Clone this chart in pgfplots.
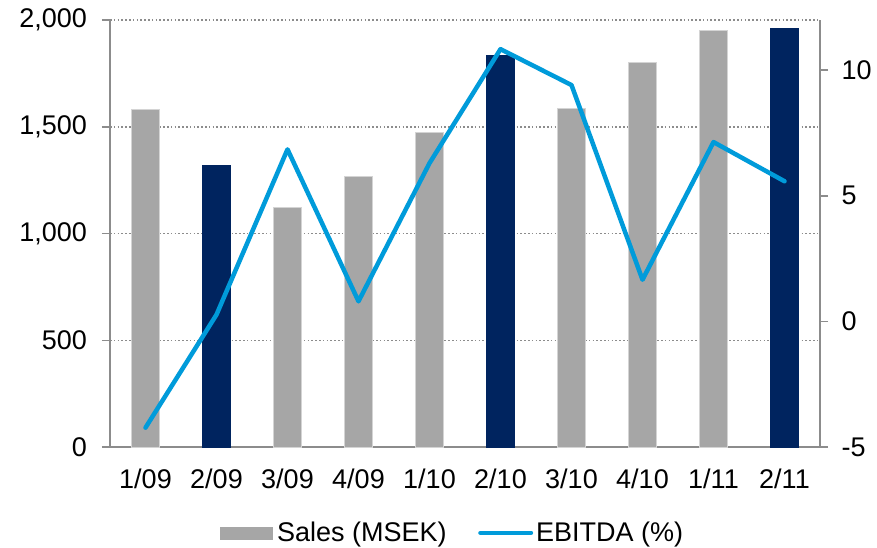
\documentclass[border=0pt]{standalone}
\usepackage{pgfplots}
\pgfplotsset{compat=1.18}
\usepackage{fontspec}
\setmainfont{Liberation Sans}

\definecolor{salesgray}{HTML}{A6A6A6}
\definecolor{salesedge}{HTML}{D4D4D4}
\definecolor{salesnavy}{HTML}{00245F}
\definecolor{ebitdablue}{HTML}{009BDA}
\definecolor{axgray}{HTML}{8C8C8C}

\newcommand{\chartfont}{\fontsize{27}{32}\selectfont}

\pgfplotsset{
  base/.style={
    scale only axis, width=710pt, height=427pt,
    xmin=-0.5, xmax=9.5,
    tick align=outside, major tick length=8pt,
    /pgf/number format/assume math mode=true,
    tick label style={font=\chartfont},
    axis line style={draw=axgray, line width=1.5pt},
    every tick/.style={draw=axgray, line width=1.5pt},
  },
}

\begin{document}
\begin{tikzpicture}[font=\chartfont]
% Sales bars, left axis
\begin{axis}[base,
  at={(0,0)}, anchor=south west,
  ymin=0, ymax=2000,
  axis x line*=bottom, axis y line*=left,
  xtick={0,...,9},
  xticklabels={1/09,2/09,3/09,4/09,1/10,2/10,3/10,4/10,1/11,2/11},
  x tick style={draw=none},
  xticklabel style={yshift=-10pt},
  ytick={0,500,1000,1500,2000},
  yticklabels={0,500,{1,000},{1,500},{2,000}},
  yticklabel style={xshift=-11.5pt},
  ymajorgrids,
  grid style={draw=axgray, line width=1.5pt, dash pattern=on 1.6pt off 2.2pt},
  ybar, bar width=28.6pt, bar shift=0pt,
]
\addplot[fill=salesgray, draw=salesedge, line width=0.8pt] coordinates {
  (0,1579) (2,1120) (3,1267) (4,1473) (6,1587) (7,1803) (8,1951)
};
\addplot[fill=salesnavy, draw=salesnavy, line width=0.8pt] coordinates {
  (1,1317) (5,1834) (9,1959)
};
\end{axis}
% EBITDA margin line, right axis
\begin{axis}[base,
  at={(0,0)}, anchor=south west,
  ymin=-5, ymax=12,
  axis x line=none, axis y line*=right,
  ytick={-5,0,5,10},
  yticklabels={-5,0,5,10},
  yticklabel style={xshift=10pt},
  legend columns=2,
  legend style={at={(0.4831,-0.201)}, anchor=center, draw=none, fill=none,
    font=\chartfont,
    nodes={inner sep=3pt},
    /tikz/every even column/.append style={column sep=28.5pt}},
]
\addlegendimage{legend image code/.code={
  \fill[salesgray] (0pt,-6pt) rectangle (52pt,6pt);
  \path (54pt,0pt);}}
\addlegendentry{Sales (MSEK)}
\addplot[draw=ebitdablue, line width=4.5pt, line cap=round, line join=round,
  legend image code/.code={
    \draw[ebitdablue, line width=4.5pt, line cap=round] (2.25pt,0pt) -- (52.75pt,0pt);}]
  coordinates {
  (0,-4.23) (1,0.27) (2,6.85) (3,0.80) (4,6.30)
  (5,10.84) (6,9.41) (7,1.66) (8,7.14) (9,5.58)
};
\addlegendentry{EBITDA (\%)}
\end{axis}
\pgfresetboundingbox
\path[use as bounding box] (-110pt,-100pt) rectangle (767pt,447pt);
\end{tikzpicture}
\end{document}
